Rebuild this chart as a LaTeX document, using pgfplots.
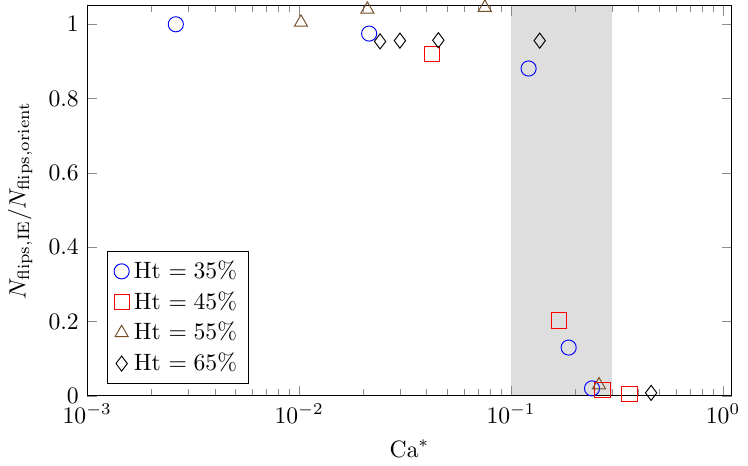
\documentclass[border=0pt]{standalone}
\usepackage{pgfplots}
\pgfplotsset{compat=1.18}

\begin{document}
\begin{tikzpicture}
    \begin{axis}[
        scale only axis,
        width=272.6pt, height=165pt,
        xmode=log,
        xmin=1e-3, xmax=1.1,
        ymin=0, ymax=1.05,
        ytick={0,0.2,0.4,0.6,0.8,1},
        xlabel={$\mathrm{Ca}^*$},
        ylabel={$N_{\mathrm{flips,IE}}/N_{\mathrm{flips,orient}}$},
        tick style={black!45},
        axis on top,
        mark size=3.2pt,
        legend pos=south west,
        legend cell align=left
    ]

    % shaded band
    \addplot[fill=black!13, draw=none, forget plot] coordinates {
        (0.1, 0) (0.3, 0) (0.3, 1.05) (0.1, 1.05)
    } -- cycle;

    \addplot[only marks, mark=o, blue] coordinates {
        (0.00262, 1.0)
        (0.0214, 0.975)
        (0.121, 0.881)
        (0.187, 0.130)
        (0.241, 0.020)
    };
    \addlegendentry{Ht $=35\%$}

    \addplot[only marks, mark=square, red] coordinates {
        (0.0422, 0.921)
        (0.169, 0.203)
        (0.270, 0.017)
        (0.362, 0.004)
    };
    \addlegendentry{Ht $=45\%$}

    \addplot[only marks, mark=triangle, brown!60!black] coordinates {
        (0.0102, 1.005)
        (0.0210, 1.040)
        (0.0752, 1.045)
        (0.260, 0.029)
    };
    \addlegendentry{Ht $=55\%$}

    \addplot[only marks, mark=diamond, black] coordinates {
        (0.0241, 0.954)
        (0.0299, 0.956)
        (0.0454, 0.957)
        (0.1365, 0.956)
        (0.458, 0.008)
    };
    \addlegendentry{Ht $=65\%$}

    \end{axis}
\end{tikzpicture}
\end{document}
